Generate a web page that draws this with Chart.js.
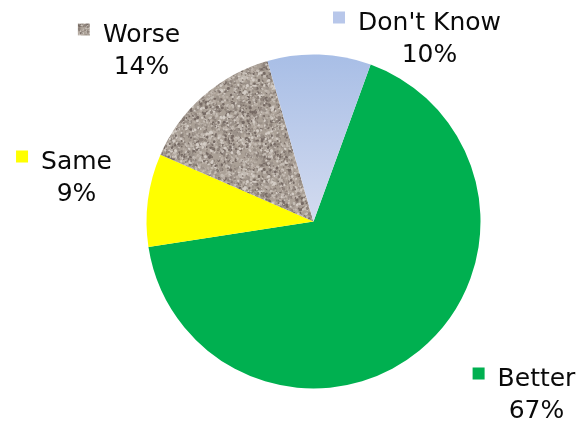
<!DOCTYPE html>
<html>
<head>
<meta charset="utf-8">
<script src="https://cdn.jsdelivr.net/npm/chart.js@4"></script>
<style>
  html, body { margin: 0; padding: 0; background: #fff; }
  canvas { display: block; }
</style>
</head>
<body>
<canvas id="pie" width="584" height="423"></canvas>
<script>
// answers, in drawing order (clockwise from the Better slice)
const categories = ["Better", "Same", "Worse", "Don't Know"];
const shares = [67, 9, 14, 10];

// label anchor (centre of the name, first baseline) relative to the pie centre
const labelOffsets = [[223, 164], [-237, -53], [-172, -180], [116, -192]];

// fine speckled stone fill for the "Worse" slice
function stonePattern() {
  const c = document.createElement("canvas");
  c.width = 96; c.height = 96;
  const g = c.getContext("2d");
  g.fillStyle = "rgb(170,160,150)";
  g.fillRect(0, 0, 96, 96);
  let seed = 4242;
  function rnd() {
    seed = (seed * 1103515245 + 12345) & 0x7fffffff;
    return seed / 0x7fffffff;
  }
  const tones = ["rgb(118,106,100)", "rgb(142,131,123)", "rgb(196,188,180)", "rgb(212,205,198)", "rgb(185,175,166)", "rgb(155,145,137)"];
  g.filter = "blur(0.4px)";
  for (let i = 0; i < 2600; i++) {
    g.fillStyle = tones[Math.floor(rnd() * tones.length)];
    const x = rnd() * 96, y = rnd() * 96, s = 0.6 + rnd() * 1.1;
    g.beginPath();
    g.ellipse(x, y, s, s * (0.6 + rnd() * 0.6), rnd() * 3, 0, Math.PI * 2);
    g.fill();
  }
  return g.createPattern(c, "repeat");
}

const canvas = document.getElementById("pie");
const stone = stonePattern();

function sliceColor(c) {
  const i = c.dataIndex;
  if (i === 0) return "#00b050";
  if (i === 1) return "#ffff00";
  if (i === 2) return stone;
  const area = c.chart.chartArea;
  if (!area) return "#bccbeb";
  const cy = (area.top + area.bottom) / 2;
  const grad = c.chart.ctx.createLinearGradient(0, area.top, 0, cy);
  grad.addColorStop(0, "#a8bee6");
  grad.addColorStop(1, "#d3dbef");
  return grad;
}

const markerFills = ["#00b050", "#ffff00", stone, "#b8c7ea"];

// names and percentages beside the slices, with a small colour square
const sliceLabels = {
  id: "sliceLabels",
  afterDraw(chart) {
    const ctx = chart.ctx;
    const arcs = chart.getDatasetMeta(0).data;
    ctx.save();
    ctx.font = "25px 'DejaVu Sans', Verdana, sans-serif";
    ctx.textAlign = "center";
    ctx.textBaseline = "alphabetic";
    arcs.forEach((arc, i) => {
      const x = arc.x + labelOffsets[i][0];
      const y = arc.y + labelOffsets[i][1];
      const name = categories[i];
      const w = ctx.measureText(name).width;
      ctx.fillStyle = "#0a0a0a";
      ctx.fillText(name, x, y);
      ctx.fillText(shares[i] + "%", x, y + 32);
      ctx.fillStyle = markerFills[i];
      ctx.fillRect(x - w / 2 - 13 - 12, y - 18, 12, 12);
    });
    ctx.restore();
  }
};

new Chart(canvas, {
  type: "pie",
  data: {
    labels: categories,
    datasets: [{
      data: shares,
      backgroundColor: sliceColor,
      borderWidth: 0
    }]
  },
  options: {
    responsive: false,
    animation: false,
    rotation: 20,
    layout: { padding: { left: 146.5, right: 103.5, top: 54.5, bottom: 34.5 } },
    plugins: {
      legend: { display: false },
      tooltip: { enabled: false }
    }
  },
  plugins: [sliceLabels]
});
</script>
</body>
</html>
